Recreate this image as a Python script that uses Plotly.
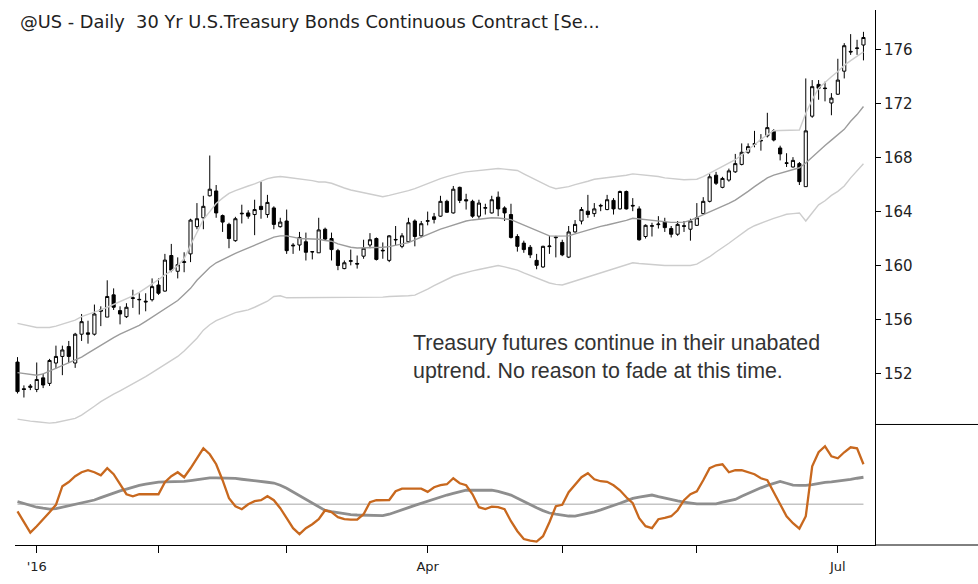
import pandas as pd
import plotly.graph_objects as go

# ---- categories (trading days) ----
holidays = ["2016-01-01", "2016-01-18", "2016-02-15", "2016-03-25", "2016-05-30", "2016-07-04"]
dates = [d.strftime("%Y-%m-%d") for d in
         pd.bdate_range("2015-12-29", "2016-07-08", freq="C", holidays=holidays)]

# ---- price data ----
open_ = [152.83, 150.85, 150.95, 150.8, 151.66, 151.25, 152.76, 153.25, 153.98, 152.76,
         154.9, 155.0, 154.9, 156.6, 156.17, 157.82, 156.65, 156.2, 157.55, 157.45,
         157.35, 157.46, 158.55, 158.1, 160.74, 159.57, 160.22, 160.86, 162.88, 163.54,
         165.17, 165.53, 163.7, 163.05, 161.84, 163.83, 163.9, 163.78, 164.39, 163.78,
         164.27, 162.88, 163.3, 161.45, 161.52, 161.76, 161.03, 160.94, 162.69, 162.0,
         161.1, 159.77, 160.31, 160.15, 160.69, 161.52, 162.0, 161.08, 160.38, 161.89,
         161.42, 161.76, 163.3, 162.2, 163.28, 163.61, 163.66, 164.76, 163.9, 165.8,
         164.88, 164.76, 163.66, 164.25, 163.9, 165.07, 164.27, 163.78, 162.15, 161.66,
         161.35, 160.38, 159.89, 161.4, 162.06, 161.71, 160.62, 162.49, 163.3, 164.03,
         163.85, 164.46, 164.15, 164.83, 164.2, 165.49, 164.46, 164.2, 162.15, 162.91,
         163.03, 163.22, 162.74, 162.32, 162.95, 162.69, 162.98, 163.85, 164.76, 166.7,
         165.8, 166.34, 166.95, 167.5, 168.4, 168.99, 169.24, 169.62, 169.99, 168.72,
         167.62, 167.31, 167.56, 165.85, 171.08, 173.44, 173.17, 172.06, 172.71, 174.42,
         175.89, 176.1, 176.36]
high = [153.2, 151.1, 151.2, 152.8, 151.98, 153.07, 154.05, 154.05, 154.4, 155.0,
        156.4, 155.9, 157.1, 156.97, 158.9, 158.3, 156.97, 157.2, 158.2, 157.94,
        157.94, 159.04, 159.04, 160.86, 161.6, 160.6, 160.98, 163.47, 164.63, 165.17,
        168.16, 165.97, 163.78, 163.17, 163.61, 164.51, 164.1, 164.88, 166.22, 165.24,
        164.39, 163.54, 164.15, 161.66, 162.49, 162.44, 161.05, 163.54, 162.81, 162.44,
        161.23, 160.37, 161.18, 160.74, 161.91, 162.4, 162.08, 161.71, 162.25, 162.93,
        162.4, 163.54, 163.42, 163.3, 164.0, 163.9, 165.17, 164.88, 165.9, 165.85,
        165.32, 164.88, 164.88, 164.58, 165.17, 165.49, 164.39, 164.58, 162.32, 161.84,
        161.52, 160.86, 161.47, 162.2, 162.2, 161.91, 162.93, 163.37, 164.34, 165.24,
        164.63, 164.58, 165.24, 165.0, 165.56, 165.56, 165.0, 164.39, 163.05, 163.17,
        163.66, 163.54, 162.93, 163.3, 163.3, 163.47, 164.63, 165.07, 166.78, 166.95,
        166.58, 167.19, 168.28, 169.06, 169.06, 169.99, 169.75, 171.33, 170.11, 168.89,
        168.33, 168.04, 167.68, 173.88, 173.76, 173.76, 173.64, 172.79, 175.34, 176.5,
        177.17, 176.75, 177.34]
low = [150.5, 150.2, 150.75, 150.6, 150.9, 151.06, 152.35, 151.86, 152.76, 152.4,
       154.4, 154.2, 154.8, 155.5, 156.17, 156.7, 155.63, 156.1, 156.85, 156.36,
       156.6, 157.33, 157.82, 158.06, 159.5, 159.04, 159.5, 160.25, 162.69, 162.69,
       165.12, 163.54, 162.49, 161.28, 161.76, 163.12, 163.47, 162.25, 163.47, 163.54,
       162.69, 162.81, 160.86, 160.86, 161.1, 160.37, 160.45, 160.94, 161.84, 160.37,
       159.65, 159.72, 160.01, 159.77, 160.5, 161.28, 160.37, 160.5, 160.25, 161.52,
       161.28, 161.71, 161.42, 162.08, 162.98, 163.12, 163.61, 163.9, 163.85, 164.63,
       164.15, 163.54, 163.47, 163.78, 163.85, 163.66, 163.3, 162.0, 161.03, 160.94,
       160.55, 159.72, 159.82, 160.86, 160.6, 160.69, 160.55, 162.44, 163.05, 163.54,
       163.61, 164.03, 164.1, 163.78, 164.15, 164.15, 164.03, 161.84, 162.0, 162.15,
       162.74, 162.49, 162.08, 162.2, 162.49, 161.84, 162.93, 163.78, 164.68, 165.97,
       165.73, 166.22, 166.87, 167.43, 168.28, 168.77, 168.52, 169.5, 169.21, 167.8,
       167.31, 167.26, 165.97, 165.85, 170.96, 172.3, 172.18, 171.15, 172.66, 173.88,
       175.63, 175.63, 175.22]
close = [150.64, 150.8, 151.05, 151.54, 151.13, 152.95, 153.25, 153.73, 153.25, 154.9,
         155.83, 154.9, 156.4, 156.7, 157.7, 156.9, 156.4, 156.9, 157.6, 157.48,
         157.3, 158.43, 157.94, 160.4, 159.65, 160.06, 160.28, 163.37, 163.47, 164.39,
         165.66, 163.9, 163.22, 162.0, 163.47, 163.87, 163.66, 164.15, 164.15, 164.68,
         163.05, 163.22, 161.1, 161.5, 162.08, 160.98, 161.01, 162.64, 161.96, 161.18,
         160.0, 160.2, 160.35, 160.11, 161.28, 161.91, 160.45, 161.12, 162.2, 161.93,
         162.2, 163.17, 162.15, 163.1, 163.32, 163.42, 164.76, 163.95, 165.66, 164.83,
         164.8, 163.66, 164.63, 164.29, 164.88, 164.2, 163.9, 162.08, 161.42, 161.18,
         160.79, 160.01, 161.42, 161.44, 162.1, 160.79, 162.49, 163.05, 164.15, 163.78,
         164.2, 164.42, 164.88, 164.2, 165.49, 164.2, 164.42, 161.91, 162.98, 162.95,
         163.07, 162.81, 162.32, 163.05, 162.91, 163.3, 163.54, 164.76, 166.58, 166.1,
         166.46, 167.02, 167.56, 168.4, 168.82, 169.03, 169.28, 170.23, 169.31, 168.28,
         167.58, 167.8, 166.22, 169.99, 173.27, 173.15, 173.13, 172.42, 173.76, 176.31,
         175.85, 176.14, 176.92]

# ---- channel lines ----
band_mid = [152.05, 152.0, 151.9, 151.85, 151.95, 152.15, 152.35, 152.55, 152.75, 152.95,
            153.2, 153.5, 153.8, 154.1, 154.4, 154.65, 154.9, 155.1, 155.3, 155.55,
            155.85, 156.15, 156.45, 156.75, 157.05, 157.4, 157.85, 158.3, 158.9, 159.4,
            159.85, 160.2, 160.45, 160.7, 160.9, 161.1, 161.3, 161.5, 161.75, 161.95,
            162.1, 162.2, 162.2, 162.1, 162.0, 161.98, 161.97, 161.95, 161.85, 161.8,
            161.6, 161.45, 161.35, 161.3, 161.3, 161.3, 161.35, 161.35, 161.4, 161.5,
            161.6, 161.7, 161.9, 162.1, 162.35, 162.55, 162.7, 162.85, 163.0, 163.15,
            163.3, 163.38, 163.45, 163.5, 163.54, 163.52, 163.48, 163.4, 163.2, 163.0,
            162.8, 162.6, 162.4, 162.2, 162.18, 162.18, 162.2, 162.35, 162.5, 162.65,
            162.8, 162.9, 163.0, 163.1, 163.2, 163.35, 163.5, 163.45, 163.35, 163.3,
            163.25, 163.2, 163.2, 163.2, 163.22, 163.35, 163.55, 163.75, 163.95, 164.15,
            164.35, 164.6, 164.85, 165.15, 165.5, 165.85, 166.2, 166.5, 166.7, 166.85,
            166.95, 167.1, 167.25, 167.6, 168.05, 168.5, 168.9, 169.3, 169.7, 170.1,
            170.7, 171.2, 171.8]
band_upper = [155.7, 155.6, 155.5, 155.4, 155.4, 155.4, 155.5, 155.65, 155.8, 155.95,
              156.2, 156.35, 156.5, 156.7, 156.9, 157.1, 157.3, 157.5, 157.75, 158.0,
              158.3, 158.6, 158.95, 159.3, 159.6, 160.0, 160.5, 161.5, 162.5, 163.4,
              164.0, 164.6, 165.0, 165.35, 165.55, 165.75, 165.9, 166.05, 166.25, 166.45,
              166.55, 166.6, 166.55, 166.5, 166.45, 166.4, 166.3, 166.2, 166.2, 166.1,
              165.9, 165.75, 165.6, 165.5, 165.4, 165.3, 165.2, 165.1, 165.2, 165.3,
              165.45, 165.55, 165.7, 165.9, 166.1, 166.3, 166.45, 166.6, 166.75, 166.85,
              166.95, 167.0, 167.05, 167.1, 167.15, 167.2, 167.15, 167.1, 167.05, 166.8,
              166.55, 166.3, 166.05, 165.85, 165.7, 165.75, 165.85, 166.0, 166.1, 166.25,
              166.4, 166.46, 166.5, 166.55, 166.6, 166.7, 166.8, 166.75, 166.7, 166.7,
              166.6, 166.5, 166.45, 166.38, 166.36, 166.38, 166.4, 166.6, 166.85, 167.1,
              167.35, 167.6, 167.85, 168.2, 168.6, 169.0, 169.35, 169.7, 170.0, 170.02,
              170.03, 170.04, 170.05, 171.3, 172.3, 173.15, 173.6, 174.0, 174.4, 174.85,
              175.2, 175.5, 175.85]
band_lower = [148.6, 148.5, 148.45, 148.4, 148.35, 148.3, 148.35, 148.45, 148.55, 148.65,
              148.9, 149.2, 149.55, 149.9, 150.2, 150.45, 150.7, 150.95, 151.2, 151.45,
              151.75, 152.05, 152.35, 152.65, 152.95, 153.25, 153.65, 154.1, 154.6, 155.2,
              155.6, 155.9, 156.1, 156.35, 156.5, 156.6, 156.7, 156.9, 157.1, 157.35,
              157.7, 157.75, 157.6, 157.6, 157.6, 157.6, 157.6, 157.6, 157.6, 157.6,
              157.6, 157.6, 157.6, 157.6, 157.65, 157.65, 157.65, 157.65, 157.7, 157.7,
              157.75, 157.75, 157.8, 158.0, 158.25, 158.5, 158.75, 159.0, 159.2, 159.35,
              159.5, 159.6, 159.7, 159.8, 159.9, 160.0, 159.9, 159.8, 159.65, 159.45,
              159.25, 159.05, 158.85, 158.7, 158.6, 158.55, 158.7, 158.85, 159.0, 159.2,
              159.35, 159.5, 159.65, 159.8, 159.95, 160.1, 160.2, 160.15, 160.1, 160.05,
              160.0, 160.0, 160.0, 160.0, 160.0, 160.0, 160.1, 160.35, 160.65, 161.0,
              161.3, 161.65, 162.0, 162.35, 162.7, 162.95, 163.15, 163.35, 163.5, 163.65,
              163.8, 163.85, 163.9, 163.3, 163.9, 164.5, 164.8, 165.2, 165.5, 165.9,
              166.5, 167.0, 167.55]

# ---- oscillator ----
osc_fast = [-0.36, -0.9, -1.42, -1.1, -0.77, -0.4, -0.03, 0.9, 1.11, 1.4,
            1.6, 1.7, 1.6, 1.45, 1.8, 1.5, 1.0, 0.5, 0.4, 0.5,
            0.5, 0.5, 0.5, 1.1, 1.4, 1.6, 1.35, 1.8, 2.3, 2.8,
            2.5, 2.0, 1.2, 0.3, -0.1, -0.25, 0.0, 0.15, 0.2, 0.4,
            0.2, -0.2, -0.7, -1.2, -1.5, -1.2, -1.0, -0.75, -0.3, -0.4,
            -0.65, -0.75, -0.77, -0.77, -0.5, 0.1, 0.2, 0.21, 0.21, 0.65,
            0.78, 0.78, 0.78, 0.78, 0.62, 0.85, 0.95, 1.0, 1.3, 1.05,
            0.95, 0.5, -0.15, -0.24, -0.12, -0.15, -0.25, -0.85, -1.35, -1.74,
            -1.82, -1.87, -1.6, -0.9, -0.1, -0.03, 0.6, 1.0, 1.35, 1.55,
            1.25, 1.15, 1.12, 0.95, 0.7, 0.35, 0.05, -0.7, -1.1, -1.2,
            -0.75, -0.68, -0.6, -0.3, 0.2, 0.5, 0.65, 1.2, 1.8, 1.95,
            2.0, 1.6, 1.7, 1.7, 1.6, 1.5, 1.3, 1.2, 0.6, 0.0,
            -0.6, -0.95, -1.22, -0.6, 1.9, 2.6, 2.9, 2.4, 2.3, 2.6,
            2.85, 2.8, 2.0]
osc_slow = [0.13, 0.03, -0.07, -0.15, -0.2, -0.24, -0.22, -0.15, -0.08, -0.02,
            0.06, 0.14, 0.21, 0.33, 0.45, 0.57, 0.67, 0.76, 0.86, 0.94,
            1.0, 1.06, 1.11, 1.12, 1.12, 1.13, 1.14, 1.18, 1.23, 1.28,
            1.32, 1.32, 1.32, 1.32, 1.29, 1.25, 1.22, 1.18, 1.14, 1.1,
            1.06, 0.95, 0.8, 0.62, 0.45, 0.25, 0.05, -0.12, -0.31, -0.37,
            -0.43, -0.48, -0.52, -0.54, -0.55, -0.56, -0.57, -0.57, -0.5, -0.4,
            -0.28, -0.17, -0.06, 0.05, 0.16, 0.26, 0.36, 0.46, 0.54, 0.62,
            0.7, 0.7, 0.7, 0.7, 0.7, 0.64, 0.55, 0.46, 0.3, 0.13,
            -0.03, -0.18, -0.32, -0.44, -0.5, -0.55, -0.59, -0.6, -0.53, -0.45,
            -0.38, -0.28, -0.18, -0.08, 0.05, 0.17, 0.29, 0.36, 0.42, 0.46,
            0.38, 0.3, 0.24, 0.17, 0.11, 0.05, 0.02, 0.02, 0.02, 0.02,
            0.1, 0.17, 0.24, 0.4, 0.55, 0.7, 0.82, 0.94, 1.06, 1.14,
            1.05, 0.96, 0.94, 0.94, 0.98, 1.04, 1.09, 1.12, 1.15, 1.19,
            1.24, 1.3, 1.35]

# ---- axis ticks ----
price_ticks = [152, 156, 160, 164, 168, 172, 176]
month_ticks = ["2016-01-04", "2016-02-01", "2016-03-01", "2016-04-01",
               "2016-05-02", "2016-06-01", "2016-07-01"]
month_labels = ["'16", "", "", "Apr", "", "", "Jul"]

title_text = "@US - Daily  30 Yr U.S.Treasury Bonds Continuous Contract [Se..."
note_text = "Treasury futures continue in their unabated<br>uptrend. No reason to fade at this time."

TICK_FONT = "DejaVu Sans"
W, H = 978, 584
ML, MR, MT, MB = 15, 103, 10, 28
PW, PH = W - ML - MR, H - MT - MB
split = (556 - 433) / PH

fig = go.Figure()
fig.add_trace(go.Scatter(x=dates, y=band_upper, mode="lines", xaxis="x2", yaxis="y2",
                         line=dict(color="#cdcdcd", width=1.4), hoverinfo="skip"))
fig.add_trace(go.Scatter(x=dates, y=band_lower, mode="lines", xaxis="x2", yaxis="y2",
                         line=dict(color="#cdcdcd", width=1.4), hoverinfo="skip"))
fig.add_trace(go.Scatter(x=dates, y=band_mid, mode="lines", xaxis="x2", yaxis="y2",
                         line=dict(color="#9c9c9c", width=1.4), hoverinfo="skip"))
fig.add_trace(go.Candlestick(
    x=dates, open=open_, high=high, low=low, close=close, xaxis="x2", yaxis="y2",
    increasing=dict(line=dict(color="#000000", width=1), fillcolor="#ffffff"),
    decreasing=dict(line=dict(color="#000000", width=1), fillcolor="#000000"),
    whiskerwidth=0))

fig.add_trace(go.Scatter(x=dates, y=osc_slow, mode="lines", xaxis="x", yaxis="y",
                         line=dict(color="#8e8e8e", width=2.8), hoverinfo="skip"))
fig.add_trace(go.Scatter(x=dates, y=osc_fast, mode="lines", xaxis="x", yaxis="y",
                         line=dict(color="#c8681e", width=2.3), hoverinfo="skip"))

fig.update_layout(
    width=W, height=H, showlegend=False,
    margin=dict(l=ML, r=MR, t=MT, b=MB),
    paper_bgcolor="white", plot_bgcolor="white",
    xaxis=dict(type="category", domain=[0, 1], anchor="y", range=[-0.39, 133.8],
               showline=True, linecolor="#000", linewidth=1, ticks="outside",
               ticklen=7, tickcolor="#000", tickvals=month_ticks, ticktext=month_labels,
               ticklabelstandoff=2,
               tickfont=dict(family=TICK_FONT, size=13, color="#222"),
               showgrid=False, zeroline=False, rangeslider=dict(visible=False)),
    xaxis2=dict(type="category", matches="x", anchor="y2", visible=False,
                rangeslider=dict(visible=False)),
    yaxis=dict(domain=[0, split], range=[-2.04, 3.99], side="right", anchor="x",
               showline=True, linecolor="#000", linewidth=1, showticklabels=False,
               ticks="", showgrid=False, zeroline=False),
    yaxis2=dict(domain=[split, 1], range=[148.20, 178.96], side="right", anchor="x2",
                showline=True, linecolor="#000", linewidth=1, ticks="outside",
                ticklen=5, tickcolor="#000", tickvals=price_ticks,
                tickfont=dict(family=TICK_FONT, size=15, color="#222"),
                showgrid=False, zeroline=False),
)

# zero line of oscillator
fig.add_shape(type="line", xref="x", yref="y", x0=dates[0], x1=dates[-1], y0=0, y1=0,
              line=dict(color="#c4c4c4", width=1.5), layer="below")
# separators in the right-hand axis area
ext = 1 + MR / PW
fig.add_shape(type="line", xref="paper", yref="paper", x0=1, x1=ext, y0=split, y1=split,
              line=dict(color="#000", width=1))
fig.add_shape(type="line", xref="paper", yref="paper", x0=1, x1=ext, y0=0, y1=0,
              line=dict(color="#000", width=1))

fig.add_annotation(text=title_text, xref="paper", yref="paper",
                   x=3 / PW, y=1 - 12 / PH,
                   xanchor="left", yanchor="middle", showarrow=False,
                   font=dict(family=TICK_FONT, size=17.8, color="#222"))
fig.add_annotation(text=note_text, xref="paper", yref="paper",
                   x=(411 - ML) / PW, y=(H - MB - 364) / PH,
                   xanchor="left", yanchor="middle", align="left", showarrow=False,
                   font=dict(family="Liberation Sans", size=21.4, color="#333"))

fig.write_html("out.html", config={"displayModeBar": False},
               post_script="document.body.style.margin='0px';")
